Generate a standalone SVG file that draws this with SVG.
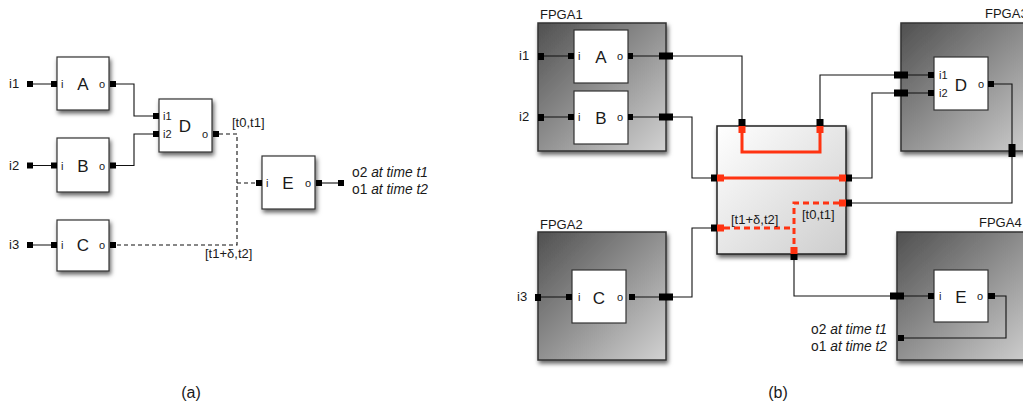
<svg xmlns="http://www.w3.org/2000/svg" width="1023" height="406" viewBox="0 0 1023 406">
<style>
text{font-family:"Liberation Sans",Arial,sans-serif;fill:#1a1a1a}
.lbl{font-size:13px}
.tl{font-size:13.8px}
.pl{font-size:11px}
.big{font-size:17px;text-anchor:middle}
.it{font-style:italic}
.box{fill:#fff;stroke:#333;stroke-width:1.2}
.fpga{fill:url(#gFpga);stroke:#333;stroke-width:1.5}
.cen{fill:url(#gCen);stroke:#222;stroke-width:1.5}
.w{fill:none;stroke:#111;stroke-width:1.1}
.d{fill:none;stroke:#111;stroke-width:1.1;stroke-dasharray:4 3}
.r{fill:none;stroke:#ff3311;stroke-width:3}
.rd{fill:none;stroke:#ff3311;stroke-width:3;stroke-dasharray:6 4}
.p{fill:#000}
.pr{fill:#ff3311}
</style>
<defs>
<linearGradient id="gFpga" x1="0" y1="0" x2="1" y2="1">
<stop offset="0" stop-color="#505050"/>
<stop offset="1" stop-color="#d2d2d2"/>
</linearGradient>
<linearGradient id="gCen" x1="0" y1="0" x2="1" y2="1">
<stop offset="0" stop-color="#ffffff"/>
<stop offset="1" stop-color="#cdcdcd"/>
</linearGradient>
<filter id="sh" x="-20%" y="-20%" width="150%" height="150%">
<feDropShadow dx="1.5" dy="3" stdDeviation="2.2" flood-color="#000" flood-opacity="0.6"/>
</filter>
</defs>

<!-- ===== (a) ===== -->
<g id="connectors-a">
<path class="w" d="M33 84H51M33 165.5H51M33 245H51"/>
<path class="w" d="M116 84H134V116H153M116 165.5H134V134H153"/>
<path class="d" d="M219 134H237V245H116M237 183H256"/>
<path class="w" d="M322 183H339"/>
</g>
<g id="a-A">
<text class="lbl" x="9" y="88">i1</text>
<rect class="p" x="27" y="81" width="6" height="6"/>
<rect class="box" x="57" y="57" width="52" height="53" filter="url(#sh)"/>
<rect class="p" x="51" y="81" width="6" height="6"/>
<rect class="p" x="110" y="81" width="6" height="6"/>
<text class="pl" x="61" y="88">i</text>
<text class="pl" x="99" y="88">o</text>
<text class="big" x="83" y="90">A</text>
</g>
<g id="a-B">
<text class="lbl" x="9" y="170">i2</text>
<rect class="p" x="27" y="162.5" width="6" height="6"/>
<rect class="box" x="57" y="138" width="52" height="54" filter="url(#sh)"/>
<rect class="p" x="51" y="162.5" width="6" height="6"/>
<rect class="p" x="110" y="162.5" width="6" height="6"/>
<text class="pl" x="61" y="169.5">i</text>
<text class="pl" x="99" y="169.5">o</text>
<text class="big" x="83" y="172">B</text>
</g>
<g id="a-C">
<text class="lbl" x="9" y="249">i3</text>
<rect class="p" x="27" y="242" width="6" height="6"/>
<rect class="box" x="57" y="220" width="52" height="51" filter="url(#sh)"/>
<rect class="p" x="51" y="242" width="6" height="6"/>
<rect class="p" x="110" y="242" width="6" height="6"/>
<text class="pl" x="61" y="249">i</text>
<text class="pl" x="99" y="249">o</text>
<text class="big" x="83" y="251">C</text>
</g>
<g id="a-D">
<rect class="box" x="159" y="99" width="53" height="53" filter="url(#sh)"/>
<rect class="p" x="153" y="113" width="6" height="6"/>
<rect class="p" x="153" y="131" width="6" height="6"/>
<rect class="p" x="213" y="131" width="6" height="6"/>
<text class="pl" x="163" y="120">i1</text>
<text class="pl" x="163" y="138">i2</text>
<text class="pl" x="202" y="138">o</text>
<text class="big" x="185" y="132">D</text>
</g>
<g id="a-E">
<rect class="box" x="262" y="156" width="53" height="53" filter="url(#sh)"/>
<rect class="p" x="256" y="180" width="6" height="6"/>
<rect class="p" x="316" y="180" width="6" height="6"/>
<rect class="p" x="338" y="180" width="6" height="6"/>
<text class="pl" x="266" y="187">i</text>
<text class="pl" x="305" y="187">o</text>
<text class="big" x="288" y="189">E</text>
</g>
<g id="a-labels">
<text class="lbl" x="232" y="127">[t0,t1]</text>
<text class="lbl" x="205" y="258">[t1+δ,t2]</text>
<text class="tl" x="352" y="177">o2 <tspan class="it">at time t1</tspan></text>
<text class="tl" x="352" y="194">o1 <tspan class="it">at time t2</tspan></text>
<text x="191" y="398" style="font-size:16px;text-anchor:middle">(a)</text>
</g>

<!-- ===== (b) ===== -->
<g id="fpga1">
<rect class="fpga" x="538" y="23" width="128" height="128" filter="url(#sh)"/>
<text class="lbl" x="540" y="19">FPGA1</text>
</g>
<g id="fpga2">
<rect class="fpga" x="538" y="232" width="128" height="128" filter="url(#sh)"/>
<text class="lbl" x="540" y="229">FPGA2</text>
</g>
<g id="fpga3">
<rect class="fpga" x="901" y="23" width="140" height="128" filter="url(#sh)"/>
<text class="lbl" x="985" y="18">FPGA3</text>
</g>
<g id="fpga4">
<rect class="fpga" x="897" y="232" width="140" height="128" filter="url(#sh)"/>
<text class="lbl" x="979" y="227">FPGA4</text>
</g>
<g id="interconnect">
<rect class="cen" x="717" y="126" width="129" height="128" filter="url(#sh)"/>
</g>

<g id="connectors-b">
<path class="w" d="M544 56H568M633 56H659M673 56H742V119"/>
<path class="w" d="M544 117H568M633 117H659M673 117H692V178H711"/>
<path class="w" d="M541 297H566M635 297H659M673 297H692V228H711"/>
<path class="w" d="M820 119V75H894M908 75H928"/>
<path class="w" d="M852 178H872V93H894M908 93H928"/>
<path class="w" d="M994 84H1012V203H852"/>
<path class="w" d="M794 260V296H890M904 296H928"/>
<path class="w" d="M995 296H1006V338H904"/>
<path class="r" d="M742 133V152H820V133"/>
<path class="r" d="M724 178H839"/>
<path class="rd" d="M839 203H794V248"/>
<path class="rd" d="M724 228H794"/>
</g>

<g id="ports-b">
<rect class="p" x="538" y="53" width="6" height="7"/>
<rect class="p" x="538" y="114" width="6" height="7"/>
<rect class="p" x="535" y="294" width="6" height="7"/>
<rect class="p" x="659" y="52.5" width="14" height="7"/>
<rect class="p" x="659" y="113.5" width="14" height="7"/>
<rect class="p" x="659" y="293.5" width="14" height="7"/>
<rect class="p" x="894" y="71.5" width="14" height="7"/>
<rect class="p" x="894" y="89.5" width="14" height="7"/>
<rect class="p" x="1008.5" y="144" width="7" height="13"/>
<rect class="p" x="890" y="292.5" width="14" height="7"/>
<rect class="p" x="898" y="335" width="6" height="6"/>
<rect class="p" x="738.5" y="119" width="7" height="7"/>
<rect class="pr" x="738.5" y="126" width="7" height="7"/>
<rect class="p" x="816.5" y="119" width="7" height="7"/>
<rect class="pr" x="816.5" y="126" width="7" height="7"/>
<rect class="p" x="711" y="174.5" width="6" height="7"/>
<rect class="pr" x="717" y="174.5" width="7" height="7"/>
<rect class="pr" x="839" y="174.5" width="7" height="7"/>
<rect class="p" x="846" y="174.5" width="6" height="7"/>
<rect class="pr" x="839" y="199.5" width="7" height="7"/>
<rect class="p" x="846" y="199.5" width="6" height="7"/>
<rect class="p" x="711" y="224.5" width="6" height="7"/>
<rect class="pr" x="717" y="224.5" width="7" height="7"/>
<rect class="pr" x="790.5" y="247" width="7" height="7"/>
<rect class="p" x="790.5" y="254" width="7" height="6"/>
</g>

<g id="b-A">
<rect class="box" x="574" y="30" width="54" height="53"/>
<rect class="p" x="568" y="53" width="6" height="6"/>
<rect class="p" x="628" y="53" width="5" height="6"/>
<text class="pl" x="578" y="60">i</text>
<text class="pl" x="617" y="60">o</text>
<text class="big" x="601" y="63">A</text>
</g>
<g id="b-B">
<rect class="box" x="574" y="91" width="54" height="53"/>
<rect class="p" x="568" y="114" width="6" height="6"/>
<rect class="p" x="628" y="114" width="5" height="6"/>
<text class="pl" x="578" y="121">i</text>
<text class="pl" x="617" y="121">o</text>
<text class="big" x="601" y="124">B</text>
</g>
<g id="b-C">
<rect class="box" x="572" y="270" width="54" height="53"/>
<rect class="p" x="566" y="294" width="6" height="6"/>
<rect class="p" x="629" y="294" width="6" height="6"/>
<text class="pl" x="578" y="301">i</text>
<text class="pl" x="617" y="301">o</text>
<text class="big" x="599" y="304">C</text>
</g>
<g id="b-D">
<rect class="box" x="934" y="57" width="54" height="53"/>
<rect class="p" x="928" y="72" width="6" height="6"/>
<rect class="p" x="928" y="90" width="6" height="6"/>
<rect class="p" x="988" y="81" width="6" height="6"/>
<text class="pl" x="939" y="79">i1</text>
<text class="pl" x="939" y="97">i2</text>
<text class="pl" x="978" y="88">o</text>
<text class="big" x="961" y="91">D</text>
</g>
<g id="b-E">
<rect class="box" x="934" y="270" width="54" height="52"/>
<rect class="p" x="928" y="293" width="6" height="6"/>
<rect class="p" x="988" y="293" width="7" height="6"/>
<text class="pl" x="939" y="300">i</text>
<text class="pl" x="977" y="300">o</text>
<text class="big" x="961" y="303">E</text>
</g>
<g id="b-labels">
<text class="lbl" x="519" y="60">i1</text>
<text class="lbl" x="519" y="121">i2</text>
<text class="lbl" x="517" y="301">i3</text>
<text class="lbl" x="731" y="224">[t1+δ,t2]</text>
<text class="lbl" x="802" y="219">[t0,t1]</text>
<text class="tl" x="887" y="334" style="text-anchor:end">o2 <tspan class="it">at time t1</tspan></text>
<text class="tl" x="887" y="351" style="text-anchor:end">o1 <tspan class="it">at time t2</tspan></text>
<text x="778" y="398" style="font-size:16px;text-anchor:middle">(b)</text>
</g>
</svg>
